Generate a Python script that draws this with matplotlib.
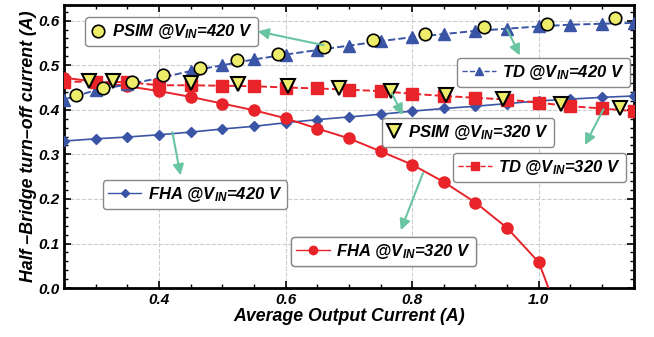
import numpy as np
import matplotlib.pyplot as plt
from matplotlib.lines import Line2D
from matplotlib.ticker import MultipleLocator

plt.rcParams['font.family'] = ['Liberation Sans', 'DejaVu Sans']
plt.rcParams['font.weight'] = 'bold'
plt.rcParams['font.style'] = 'italic'
plt.rcParams['axes.labelweight'] = 'bold'
plt.rcParams['mathtext.fontset'] = 'custom'
plt.rcParams['mathtext.rm'] = 'Liberation Sans:bold:italic'
plt.rcParams['mathtext.it'] = 'Liberation Sans:bold:italic'
plt.rcParams['mathtext.bf'] = 'Liberation Sans:bold:italic'

# model curves share one current grid (A)
i_grid = [0.25, 0.30, 0.35, 0.40, 0.45, 0.50, 0.55, 0.60, 0.65, 0.70,
          0.75, 0.80, 0.85, 0.90, 0.95, 1.00, 1.05, 1.10, 1.15]

fha_420 = [0.330, 0.335, 0.339, 0.344, 0.350, 0.357, 0.363, 0.371, 0.378, 0.384,
           0.390, 0.397, 0.403, 0.408, 0.414, 0.420, 0.424, 0.428, 0.431]
fha_320 = [0.472, 0.463, 0.453, 0.442, 0.429, 0.414, 0.399, 0.381, 0.358, 0.336,
           0.307, 0.277, 0.238, 0.192, 0.135, 0.058, -0.13, -0.35, -0.60]
td_420 = [0.423, 0.444, 0.457, 0.471, 0.487, 0.500, 0.513, 0.524, 0.534, 0.544,
          0.554, 0.563, 0.570, 0.577, 0.582, 0.587, 0.591, 0.593, 0.595]
td_320 = [0.463, 0.463, 0.462, 0.455, 0.455, 0.454, 0.453, 0.450, 0.448, 0.445,
          0.442, 0.436, 0.431, 0.427, 0.423, 0.416, 0.408, 0.403, 0.397]

# PSIM simulation points
psim420_x = [0.269, 0.312, 0.357, 0.407, 0.464, 0.523, 0.588, 0.660, 0.738,
             0.820, 0.914, 1.013, 1.121]
psim420_y = [0.433, 0.448, 0.463, 0.478, 0.494, 0.511, 0.526, 0.542, 0.557,
             0.571, 0.586, 0.592, 0.605]
psim320_x = [0.289, 0.327, 0.451, 0.524, 0.603, 0.684, 0.767, 0.853, 0.943,
             1.035, 1.129]
psim320_y = [0.464, 0.464, 0.460, 0.457, 0.453, 0.448, 0.442, 0.434, 0.425,
             0.413, 0.404]

blue = '#3b55a6'
red = '#e8232a'
yellow = '#eded6b'
teal = '#69c4a2'

fig = plt.figure(figsize=(6.54, 3.37), dpi=100)
ax = fig.add_axes([0.098, 0.145, 0.871, 0.840])

ax.plot(i_grid, fha_420, '-', color=blue, lw=1.2, marker='D', ms=5, zorder=3)
ax.plot(i_grid, fha_320, '-', color=red, lw=1.4, marker='o', ms=8, zorder=3)
ax.plot(i_grid, td_420, '--', color=blue, lw=1.4, marker='^', ms=9, zorder=3)
ax.plot(i_grid, td_320, '--', color=red, lw=1.4, marker='s', ms=8, zorder=3)
ax.plot(psim420_x, psim420_y, 'o', mfc=yellow, mec='black', mew=1.2, ms=9, zorder=4)
ax.plot(psim320_x, psim320_y, 'v', mfc=yellow, mec='black', mew=1.5, ms=10, zorder=4)

ax.set_xlim(0.25, 1.15)
ax.set_ylim(0.0, 0.635)
ax.xaxis.set_major_locator(MultipleLocator(0.2))
ax.xaxis.set_minor_locator(MultipleLocator(0.05))
ax.yaxis.set_major_locator(MultipleLocator(0.1))
ax.yaxis.set_minor_locator(MultipleLocator(0.02))
ax.tick_params(which='both', direction='in', top=True, right=True, labelsize=11)
ax.tick_params(which='major', length=5, width=1.2)
ax.tick_params(which='minor', length=3, width=1)
for s in ax.spines.values():
    s.set_linewidth(2)
ax.grid(True, ls='--', color='#cccccc', lw=0.8)
ax.set_axisbelow(True)

ax.set_xlabel('Average Output Current (A)', fontsize=12.8, labelpad=1)
ax.set_ylabel('Half \u2013Bridge turn\u2013off current (A)', fontsize=12.8, labelpad=1)

# separate legend boxes
def box(handle, label, xy, hlen):
    lg = ax.legend([handle], [label], loc='center', bbox_to_anchor=xy,
                   bbox_transform=ax.transAxes, fontsize=12, fancybox=True,
                   framealpha=1, edgecolor='#888888', handlelength=hlen,
                   borderpad=0.3, handletextpad=0.4, borderaxespad=0)
    lg.get_frame().set_linewidth(1)
    ax.add_artist(lg)

box(Line2D([], [], ls='', marker='o', mfc=yellow, mec='black', mew=1.2, ms=9),
    r'PSIM @$V_{IN}$=420 V', (0.189, 0.905), 0.9)
box(Line2D([], [], ls='--', color=blue, lw=1, marker='^', ms=6),
    r'TD @$V_{IN}$=420 V', (0.842, 0.762), 2.0)
box(Line2D([], [], ls='', marker='v', mfc=yellow, mec='black', mew=1.5, ms=10),
    r'PSIM @$V_{IN}$=320 V', (0.709, 0.551), 0.9)
box(Line2D([], [], ls='--', color=red, lw=1, marker='s', ms=6),
    r'TD @$V_{IN}$=320 V', (0.835, 0.426), 2.0)
box(Line2D([], [], ls='-', color=blue, lw=1, marker='D', ms=4),
    r'FHA @$V_{IN}$=420 V', (0.230, 0.330), 2.0)
box(Line2D([], [], ls='-', color=red, lw=1, marker='o', ms=6),
    r'FHA @$V_{IN}$=320 V', (0.561, 0.131), 2.0)

# arrows from curves to their labels
arrows = [((0.660, 0.545), (0.556, 0.576)),
          ((0.950, 0.581), (0.970, 0.522)),
          ((0.768, 0.437), (0.785, 0.388)),
          ((1.102, 0.401), (1.073, 0.321)),
          ((0.421, 0.350), (0.434, 0.253)),
          ((0.817, 0.258), (0.782, 0.130))]
for tail, head in arrows:
    ax.annotate('', xy=head, xytext=tail,
                arrowprops=dict(arrowstyle='-|>', color=teal, lw=1.5,
                                mutation_scale=16, shrinkA=0, shrinkB=0),
                zorder=6)

fig.savefig('out.png', dpi=100)
